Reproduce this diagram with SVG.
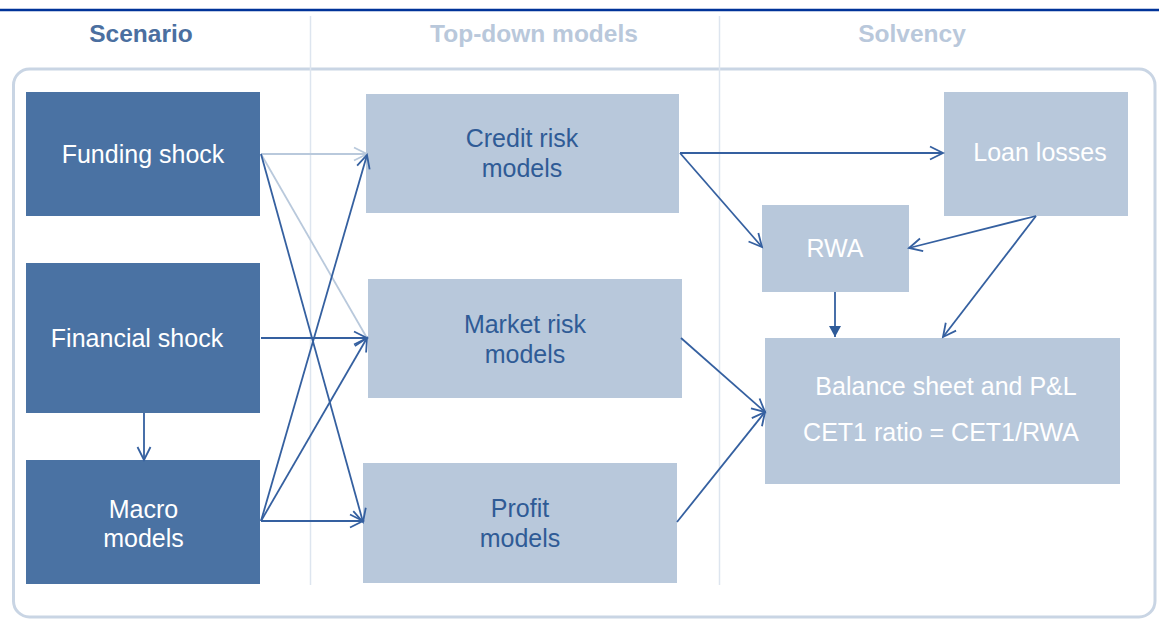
<svg xmlns="http://www.w3.org/2000/svg" width="1159" height="620" viewBox="0 0 1159 620">
<style>
text{font-family:"Liberation Sans",Arial,sans-serif;text-anchor:middle}
.hd{font-size:24.5px;font-weight:bold}
.lbl{font-size:25px}
.dk{fill:#4a72a3}
.lt{fill:#b8c8db}
.wt{fill:#ffffff}
.bt{fill:#2f5b96}
.c{fill:none;stroke:#3560a0;stroke-width:1.8}
.cl{fill:none;stroke:#b9c9dc;stroke-width:1.8}
</style>
<defs>
<marker id="ad" markerUnits="userSpaceOnUse" markerWidth="16" markerHeight="16" refX="13" refY="6.5" orient="auto" overflow="visible">
<path d="M0,0 L13,6.5 L0,13" fill="none" stroke="#3560a0" stroke-width="1.8"/>
</marker>
<marker id="al" markerUnits="userSpaceOnUse" markerWidth="16" markerHeight="16" refX="13" refY="6.5" orient="auto" overflow="visible">
<path d="M0,0 L13,6.5 L0,13" fill="none" stroke="#b9c9dc" stroke-width="1.8"/>
</marker>
<marker id="af" markerUnits="userSpaceOnUse" markerWidth="14" markerHeight="14" refX="11" refY="6" orient="auto" overflow="visible">
<path d="M0,0 L11,6 L0,12 Z" fill="#2f5b99"/>
</marker>
</defs>
<rect width="1159" height="620" fill="#ffffff"/>
<g id="frame">
<line x1="0" y1="10" x2="1159" y2="10" stroke="#003399" stroke-width="2.5"/>
<rect x="13.5" y="69" width="1141.5" height="548" rx="16" fill="none" stroke="#c9d5e4" stroke-width="3"/>
<line x1="310.5" y1="16" x2="310.5" y2="585" stroke="#dde5ef" stroke-width="1.5"/>
<line x1="719.5" y1="16" x2="719.5" y2="585" stroke="#dde5ef" stroke-width="1.5"/>
</g>
<g id="headers">
<text class="hd" x="141" y="42" fill="#4b6fa0">Scenario</text>
<text class="hd" x="534" y="42" fill="#b9c8db">Top-down models</text>
<text class="hd" x="912" y="42" fill="#b9c8db">Solvency</text>
</g>
<g id="funding-shock">
<rect class="dk" x="26" y="92" width="234" height="124"/>
<text class="lbl wt" x="143" y="163">Funding shock</text>
</g>
<g id="financial-shock">
<rect class="dk" x="26" y="263" width="234" height="150"/>
<text class="lbl wt" x="137" y="347">Financial shock</text>
</g>
<g id="macro-models">
<rect class="dk" x="26" y="460" width="234" height="124"/>
<text class="lbl wt" x="143.5" y="518">Macro</text>
<text class="lbl wt" x="143.5" y="547">models</text>
</g>
<g id="credit-risk-models">
<rect class="lt" x="366" y="94" width="313" height="119"/>
<text class="lbl bt" x="522" y="147">Credit risk</text>
<text class="lbl bt" x="522" y="177">models</text>
</g>
<g id="market-risk-models">
<rect class="lt" x="368" y="279" width="314" height="119"/>
<text class="lbl bt" x="525" y="333">Market risk</text>
<text class="lbl bt" x="525" y="363">models</text>
</g>
<g id="profit-models">
<rect class="lt" x="363" y="463" width="314" height="120"/>
<text class="lbl bt" x="520" y="517">Profit</text>
<text class="lbl bt" x="520" y="547">models</text>
</g>
<g id="loan-losses">
<rect class="lt" x="944" y="92" width="184" height="124"/>
<text class="lbl wt" x="1040" y="161">Loan losses</text>
</g>
<g id="rwa">
<rect class="lt" x="762" y="205" width="147" height="87"/>
<text class="lbl wt" x="835" y="257">RWA</text>
</g>
<g id="balance-sheet">
<rect class="lt" x="765" y="338" width="355" height="146"/>
<text class="lbl wt" x="946" y="395">Balance sheet and P&amp;L</text>
<text class="lbl wt" x="941" y="441">CET1 ratio = CET1/RWA</text>
</g>
<g id="connectors">
<line class="cl" x1="261" y1="154" x2="367" y2="154" marker-end="url(#al)"/>
<line class="cl" x1="261" y1="154" x2="367" y2="338"/>
<line class="c" x1="261" y1="154" x2="363" y2="522" marker-end="url(#ad)"/>
<line class="c" x1="261" y1="338" x2="367" y2="338" marker-end="url(#ad)"/>
<line class="c" x1="261" y1="521" x2="367" y2="155" marker-end="url(#ad)"/>
<line class="c" x1="261" y1="521" x2="367" y2="338" marker-end="url(#ad)"/>
<line class="c" x1="261" y1="521" x2="363" y2="521" marker-end="url(#ad)"/>
<line class="c" x1="144" y1="413" x2="144" y2="460" marker-end="url(#ad)"/>
<line class="c" x1="680" y1="153" x2="943" y2="153" marker-end="url(#ad)"/>
<line class="c" x1="680" y1="153" x2="762" y2="247" marker-end="url(#ad)"/>
<line class="c" x1="1036" y1="216" x2="909" y2="248" marker-end="url(#ad)"/>
<line class="c" x1="1036" y1="216" x2="943" y2="337" marker-end="url(#ad)"/>
<line class="c" x1="835" y1="292" x2="835" y2="337" marker-end="url(#af)"/>
<line class="c" x1="681" y1="338" x2="765" y2="412" marker-end="url(#ad)"/>
<line class="c" x1="677" y1="522" x2="765" y2="412" marker-end="url(#ad)"/>
</g>
</svg>
